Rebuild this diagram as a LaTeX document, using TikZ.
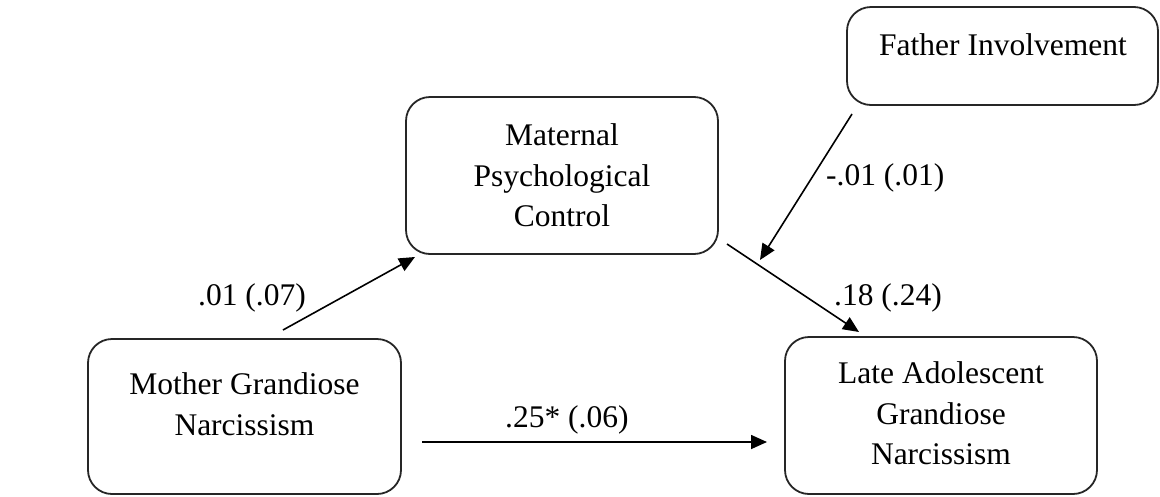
\documentclass[tikz,border=0pt]{standalone}
\usepackage{fontspec}
\setmainfont{Liberation Serif}
\usetikzlibrary{arrows.meta}
\begin{document}
\begin{tikzpicture}[x=1pt,y=-1pt,
  varbox/.style={draw=black!85, line width=1.8pt, rounded corners=24pt, inner sep=0pt},
  boxtext/.style={align=center, inner sep=0pt, anchor=north, font=\fontsize{31.5}{40.5}\selectfont},
  coef/.style={inner sep=0pt, anchor=base west, font=\fontsize{31.5}{38}\selectfont},
  path/.style={line width=1.6pt, -{Triangle[length=16pt,width=14pt]}}]
\useasboundingbox (0,0) rectangle (1160,496);
% boxes
\node[varbox, minimum width=313pt, minimum height=155pt] (mother) at (244.5,416.5) {};
\node[varbox, minimum width=312pt, minimum height=157pt] (maternal) at (562,175.5) {};
\node[varbox, minimum width=311pt, minimum height=98pt] (father) at (1002.5,56) {};
\node[varbox, minimum width=312pt, minimum height=157pt] (late) at (941,415.5) {};
% box texts
\node[boxtext] (mothertxt) at (244.5,372.5) {Mother Grandiose\\Narcissism};
\node[boxtext] (maternaltxt) at (562,123.5) {Maternal\\Psychological\\Control};
\node[boxtext] (fathertxt) at (1003,33.5) {Father Involvement};
\node[boxtext] (latetxt) at (941,361.5) {Late Adolescent\\Grandiose\\Narcissism};
% connector end points
\coordinate (a1s) at (283,330);
\coordinate (a1e) at (415,257);
\coordinate (a2s) at (422,442);
\coordinate (a2e) at (767,442);
\coordinate (a3s) at (727,244);
\coordinate (a3e) at (859,332);
\coordinate (a4s) at (852,114);
\coordinate (a4e) at (760,260);
% connectors
\draw[path] (a1s) -- (a1e);
\draw[path] (a2s) -- (a2e);
\draw[path] (a3s) -- (a3e);
\draw[path] (a4s) -- (a4e);
% coefficients
\node[coef] (c1) at (198,305) {.01 (.07)};
\node[coef] (c2) at (505,427) {.25* (.06)};
\node[coef] (c3) at (826,185) {-.01 (.01)};
\node[coef] (c4) at (834,305) {.18 (.24)};
\end{tikzpicture}
\end{document}
